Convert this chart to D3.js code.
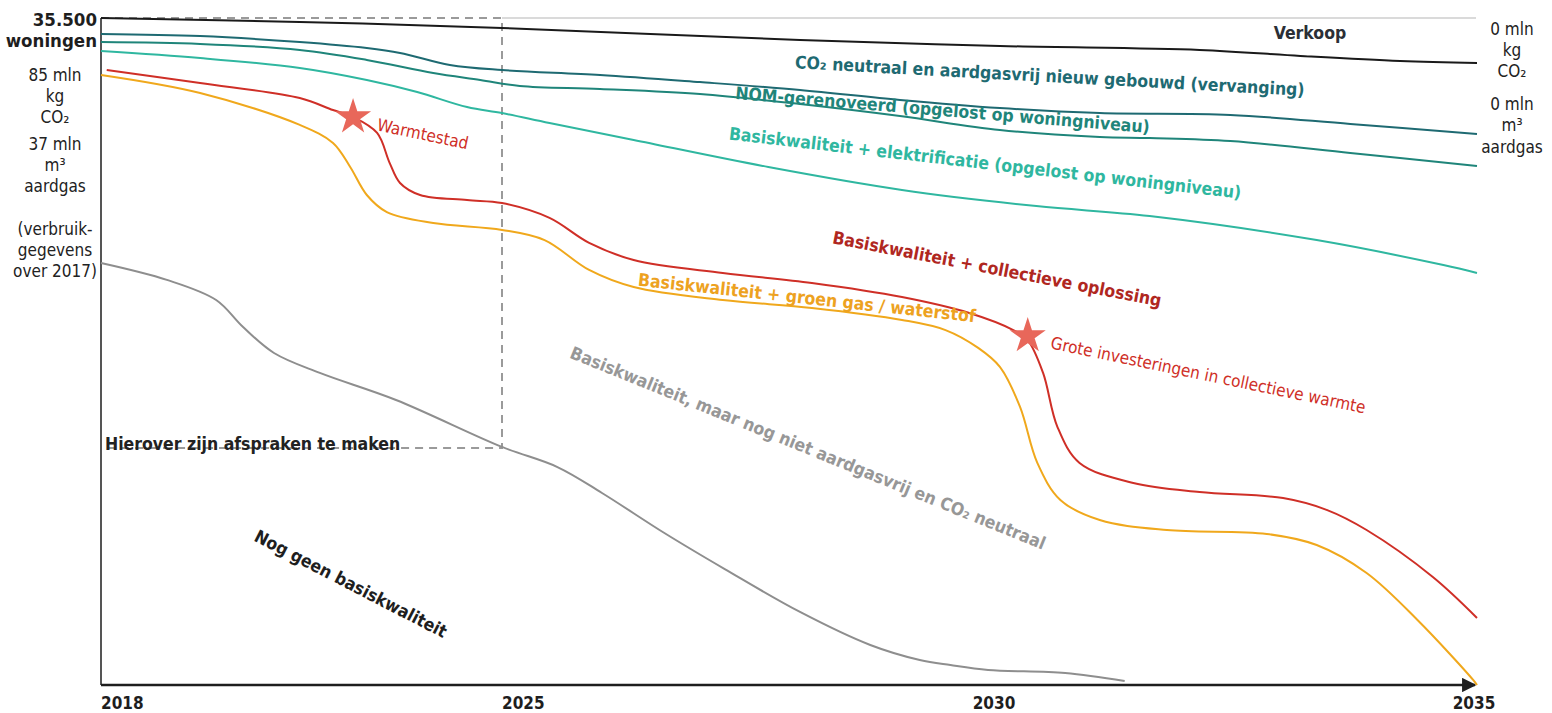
<!DOCTYPE html>
<html>
<head>
<meta charset="utf-8">
<script src="https://cdn.jsdelivr.net/npm/d3@7/dist/d3.min.js"></script>
<style>
  html, body { margin: 0; padding: 0; background: #fff; }
  svg { display: block; font-family: "DejaVu Sans Condensed", "DejaVu Sans", sans-serif; }
</style>
</head>
<body>
<svg id="chart" width="1552" height="713"></svg>
<script>
// axis ticks (years) and the top value
const tickYears = [2018, 2025, 2030, 2035];
const tickLabels = ["2018", "2025", "2030", "2035"];
const maxWoningen = 35500;

// series: [year, woningen]
const verkoop = [[2018,35500],[2021.47,35290],[2025,34970],[2028.01,34330],[2030.03,34010],[2032.11,33800],[2033.16,33480],[2034.2,33210],[2035,33100]];
const nieuwbouw = [[2018,34650],[2019.73,34540],[2021.47,34220],[2022.64,33900],[2023.22,33640],[2024.09,33000],[2025,32730],[2025.99,32470],[2027,32090],[2028.01,31670],[2029.02,31140],[2030.03,30710],[2031.07,30440],[2032.43,30340],[2033.68,29860],[2035,29330]];
const nom = [[2018,34220],[2019.73,34120],[2021.47,33800],[2022.64,33270],[2023.8,32570],[2024.62,32200],[2025.18,31880],[2025.99,31720],[2027,31450],[2028.01,30920],[2029.02,30280],[2030.03,29540],[2031.07,29170],[2031.59,29110],[2032.43,28950],[2033.68,28320],[2035,27620]];
const elektrificatie = [[2018,33740],[2019.73,33370],[2021.47,32840],[2022.64,32200],[2023.52,31560],[2024.39,30760],[2025,30440],[2025.48,29910],[2026.33,29010],[2027.69,27570],[2029.04,26350],[2030.41,25490],[2031.59,24960],[2033.33,23680],[2034.65,22350],[2035,21930]];
const collectief = [[2018.1,32730],[2019.73,32040],[2021.47,31240],[2022.05,30600],[2022.4,30230],[2022.82,29380],[2023.04,27780],[2023.22,26720],[2023.57,26080],[2024.39,25810],[2025,25650],[2025.48,24860],[2025.88,23530],[2026.33,22620],[2027.23,21930],[2028.13,21400],[2029.04,20650],[2029.72,19800],[2030.17,18890],[2030.32,18360],[2030.48,16610],[2030.63,13730],[2030.86,11820],[2031.42,10750],[2032.11,10270],[2032.98,9950],[2033.44,9310],[2033.85,8250],[2034.54,5750],[2035,3570]];
const groenGas = [[2018,32470],[2019.73,31510],[2021.47,29810],[2022.05,28850],[2022.35,27570],[2022.64,26080],[2022.99,25170],[2023.8,24590],[2025,24220],[2025.43,23680],[2025.88,22090],[2026.33,21180],[2027.23,20490],[2028.13,20070],[2029.04,19430],[2029.48,18890],[2029.81,17940],[2030.03,16930],[2030.24,14800],[2030.42,11820],[2030.66,9850],[2031.07,8780],[2031.77,8250],[2032.81,8040],[2033.33,7450],[2033.85,5960],[2034.38,3460],[2034.96,270],[2035,0]];
const nietAardgasvrij = [[2018,22460],[2019.15,21560],[2020.01,20490],[2020.48,19050],[2021.02,17670],[2021.82,16610],[2023.15,15170],[2025,12670],[2025.56,11600],[2026.01,10220],[2026.64,8090],[2027.25,6170],[2028.01,3890],[2028.72,2130],[2029.22,1330],[2029.53,1060],[2029.91,800],[2030.71,640],[2031.33,210]];

// milestones (stars)
const milestones = [[2022.4, 30230], [2030.32, 18575]];
// agreement box: years and woningen range
const afsprakenYears = [2018, 2025];
const afsprakenWoningen = [12610, 35500];

const svg = d3.select("#chart");

// the original time axis is not linear: each period has its own width
const x = d3.scaleLinear().domain(tickYears).range([101, 502, 997, 1477]);
const y = d3.scaleLinear().domain([0, maxWoningen]).range([685, 18]);

const line = d3.line().x(d => x(d[0])).y(d => y(d[1])).curve(d3.curveCatmullRom.alpha(0.5));

// dashed box + top border
const bx0 = x(afsprakenYears[0]), bx1 = x(afsprakenYears[1]);
const by0 = y(afsprakenWoningen[1]), by1 = y(afsprakenWoningen[0]);
svg.append("path")
  .attr("d", `M${bx0},${by0} H${bx1} V${by1} H${bx0}`)
  .attr("fill", "none").attr("stroke", "#9a9a9a")
  .attr("stroke-width", 2).attr("stroke-dasharray", "8,6");
svg.append("line")
  .attr("x1", bx1).attr("x2", x(2035) - 1)
  .attr("y1", y(maxWoningen)).attr("y2", y(maxWoningen))
  .attr("stroke", "#b5b5b5").attr("stroke-width", 1);

// axes
svg.append("defs").append("marker")
  .attr("id", "arrow").attr("viewBox", "0 0 10 10")
  .attr("refX", 9).attr("refY", 5)
  .attr("markerWidth", 6).attr("markerHeight", 6)
  .attr("markerUnits", "strokeWidth").attr("orient", "auto")
  .append("path").attr("d", "M0,0 L10,5 L0,10 z").attr("fill", "#1e1e1e");

svg.append("line")
  .attr("x1", x(2018)).attr("x2", x(2018))
  .attr("y1", y(maxWoningen)).attr("y2", y(0))
  .attr("stroke", "#555").attr("stroke-width", 2);
svg.append("line")
  .attr("x1", x(2018)).attr("x2", x(2035) - 2)
  .attr("y1", y(0)).attr("y2", y(0))
  .attr("stroke", "#1e1e1e").attr("stroke-width", 2.4)
  .attr("marker-end", "url(#arrow)");

svg.append("g").selectAll("text")
  .data(tickYears)
  .join("text")
  .attr("x", (d, i) => i < 2 ? x(d) : x(d) - 3)
  .attr("y", 709)
  .attr("text-anchor", (d, i) => i < 2 ? "start" : "middle")
  .attr("font-weight", "bold").attr("font-size", 17).attr("fill", "#1e1e1e")
  .text((d, i) => tickLabels[i]);

// series lines
const series = [
  { data: nietAardgasvrij, color: "#8e8e8e" },
  { data: groenGas, color: "#f0a81c" },
  { data: collectief, color: "#cf2f27" },
  { data: elektrificatie, color: "#2fb7a0" },
  { data: nom, color: "#1f857a" },
  { data: nieuwbouw, color: "#1e6a72" },
  { data: verkoop, color: "#1a1a1a" },
];
svg.append("g").selectAll("path")
  .data(series)
  .join("path")
  .attr("d", d => line(d.data))
  .attr("fill", "none")
  .attr("stroke", d => d.color)
  .attr("stroke-width", 2);

// stars
const star = d3.symbol().type(d3.symbolStar).size(405);
svg.append("g").selectAll("path")
  .data(milestones)
  .join("path")
  .attr("transform", d => `translate(${x(d[0])},${y(d[1])})`)
  .attr("d", star)
  .attr("fill", "#e8675a");

// labels on the chart
const labels = [
  { t: "Verkoop", at: [2033.26, 34700], r: 0, c: "#2b2f36", b: true },
  { t: "CO\u2082 neutraal en aardgasvrij nieuw gebouwd (vervanging)", at: [2030.55, 32410], r: 3.1, c: "#1e6a72", b: true },
  { t: "NOM-gerenoveerd (opgelost op woningniveau)", at: [2029.45, 30600], r: 4.7, c: "#1f857a", b: true },
  { t: "Basiskwaliteit + elektrificatie (opgelost op woningniveau)", at: [2029.88, 27780], r: 6.6, c: "#2fb7a0", b: true },
  { t: "Basiskwaliteit + collectieve oplossing", at: [2030.0, 22140], r: 10.9, c: "#b0271f", b: true },
  { t: "Basiskwaliteit + groen gas / waterstof", at: [2028.08, 20600], r: 6.2, c: "#eda21f", b: true },
  { t: "Basiskwaliteit, maar nog niet aardgasvrij en CO\u2082 neutraal", at: [2028.09, 12610], r: 22.1, c: "#979797", b: true },
  { t: "Nog geen basiskwaliteit", at: [2022.36, 5380], r: 27.3, c: "#1e1e1e", b: true },
  { t: "Warmtestad", at: [2023.62, 29330], r: 11.9, c: "#cf2f27", b: false },
  { t: "Grote investeringen in collectieve warmte", at: [2032.2, 16500], r: 11.7, c: "#cf2f27", b: false },
];
svg.append("g").selectAll("text")
  .data(labels)
  .join("text")
  .attr("transform", d => `translate(${x(d.at[0])},${y(d.at[1])}) rotate(${d.r})`)
  .attr("text-anchor", "middle")
  .attr("dominant-baseline", "central")
  .attr("font-size", d => d.b ? 17.5 : 17)
  .attr("font-weight", d => d.b ? "bold" : "normal")
  .attr("fill", d => d.c)
  .text(d => d.t);

svg.append("text")
  .attr("x", bx0 + 4).attr("y", by1 + 2)
  .attr("font-size", 17.5).attr("font-weight", "bold").attr("fill", "#222")
  .text("Hierover zijn afspraken te maken");

// left column
svg.append("text").attr("x", 97).attr("y", 26).attr("text-anchor", "end")
  .attr("font-size", 18.5).attr("font-weight", "bold").attr("fill", "#1e1e1e").text("35.500");
svg.append("text").attr("x", 97).attr("y", 47).attr("text-anchor", "end")
  .attr("font-size", 18.5).attr("font-weight", "bold").attr("fill", "#1e1e1e").text("woningen");

const leftLines = [["85 mln", 81], ["kg", 102], ["CO\u2082", 123], ["37 mln", 150], ["m\u00b3", 171], ["aardgas", 192], ["(verbruik-", 235], ["gegevens", 256], ["over 2017)", 277]];
svg.append("g").selectAll("text").data(leftLines).join("text")
  .attr("x", 55).attr("y", d => d[1]).attr("text-anchor", "middle")
  .attr("font-size", 17).attr("fill", "#222").text(d => d[0]);

const rightLines = [["0 mln", 35], ["kg", 56], ["CO\u2082", 77], ["0 mln", 110], ["m\u00b3", 131], ["aardgas", 153]];
svg.append("g").selectAll("text").data(rightLines).join("text")
  .attr("x", 1512).attr("y", d => d[1]).attr("text-anchor", "middle")
  .attr("font-size", 17).attr("fill", "#222").text(d => d[0]);
</script>
</body>
</html>
